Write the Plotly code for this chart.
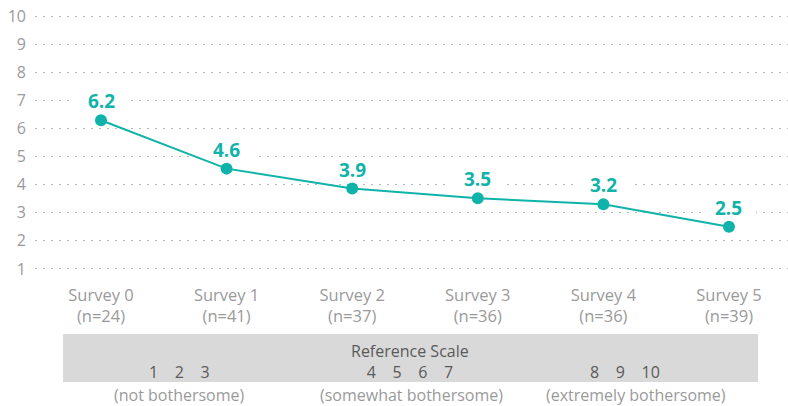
import plotly.graph_objects as go

# ---- data ----
surveys = ["Survey 0", "Survey 1", "Survey 2", "Survey 3", "Survey 4", "Survey 5"]
sample_sizes = [24, 41, 37, 36, 36, 39]
mean_scores = [6.29, 4.57, 3.86, 3.52, 3.30, 2.50]
score_labels = ["6.2", "4.6", "3.9", "3.5", "3.2", "2.5"]
y_ticks = [1, 2, 3, 4, 5, 6, 7, 8, 9, 10]
scale_title = "Reference Scale"
scale_groups = [["1", "2", "3"], ["4", "5", "6", "7"], ["8", "9", "10"]]
scale_descriptions = ["(not bothersome)", "(somewhat bothersome)", "(extremely bothersome)"]

# ---- layout geometry (pixels) ----
W, H = 788, 406
ML, MR, MT, MB = 35, 0, 2, 123
PW, PH = W - ML - MR, H - MT - MB


def px_x(px):
    return (px - ML) / PW


def px_y(py):
    return (H - MB - py) / PH


TEAL = "#10b3a9"
FONT = "Open Sans"
GREY = "#9a9a9a"
DARK = "#5a5a5a"

x_idx = list(range(len(surveys)))
tick_text = [f"{s}<br>(n={n})" for s, n in zip(surveys, sample_sizes)]

fig = go.Figure()
fig.add_trace(go.Scatter(
    x=x_idx, y=mean_scores, mode="lines+markers",
    line=dict(color=TEAL, width=2),
    marker=dict(color=TEAL, size=12),
    hoverinfo="skip", showlegend=False,
))

annotations = []
shapes = []
for xi, v, lab in zip(x_idx, mean_scores, score_labels):
    # white patch that hides the dotted gridlines behind each value label
    shapes.append(dict(
        type="rect", xref="x", yref="y", layer="between",
        xsizemode="pixel", ysizemode="pixel", xanchor=xi, yanchor=v,
        x0=-27, x1=27, y0=9, y1=29,
        fillcolor="white", line=dict(width=0),
    ))
    annotations.append(dict(
        x=xi, y=v, xref="x", yref="y", text=f"<b>{lab}</b>",
        showarrow=False, yshift=19,
        xanchor="center", yanchor="middle",
        font=dict(family=FONT, size=19, color=TEAL),
    ))

# reference scale box
shapes.append(dict(
    type="rect", xref="paper", yref="paper",
    x0=px_x(63), x1=px_x(758), y0=px_y(382), y1=px_y(334),
    fillcolor="#d9d9d9", line=dict(width=0), layer="below",
))

group_centers = [179, 410, 625]
desc_centers = [179, 411, 636]
SEP = "&nbsp;&nbsp;&nbsp;&nbsp;"
for i, (grp, cx) in enumerate(zip(scale_groups, group_centers)):
    nums = SEP.join(grp)
    if i == 1:
        # title sits directly above the middle group
        text, cy = scale_title + "<br>" + nums, 361.5
    else:
        text, cy = nums, 372
    annotations.append(dict(
        x=px_x(cx), y=px_y(cy), xref="paper", yref="paper",
        text=text, xanchor="center", yanchor="middle", align="center",
        showarrow=False, font=dict(family=FONT, size=16, color=DARK),
    ))
for d, cx in zip(scale_descriptions, desc_centers):
    annotations.append(dict(
        x=px_x(cx), y=px_y(395), xref="paper", yref="paper", text=d,
        xanchor="center", yanchor="middle",
        showarrow=False, font=dict(family=FONT, size=16, color=GREY),
    ))

fig.update_layout(
    width=W, height=H,
    margin=dict(l=ML, r=MR, t=MT, b=MB, pad=0),
    paper_bgcolor="white", plot_bgcolor="white",
    font=dict(family=FONT),
    shapes=shapes, annotations=annotations,
    xaxis=dict(
        range=[-0.5255, 5.47], tickvals=x_idx, ticktext=tick_text,
        showgrid=False, zeroline=False, showline=False,
        tickfont=dict(family=FONT, size=16.5, color=GREY),
        ticklabelstandoff=0, fixedrange=True,
    ),
    yaxis=dict(
        range=[0.5, 10.5], tickvals=y_ticks, showgrid=True,
        gridcolor="#b8b8b8", griddash="2px,6px", gridwidth=1,
        zeroline=False, showline=False,
        tickfont=dict(family=FONT, size=16, color=GREY),
        ticklabelstandoff=8, fixedrange=True,
    ),
)

body = fig.to_html(full_html=False, include_plotlyjs=True, config={"displayModeBar": False})
html = ("<!DOCTYPE html><html><head><meta charset='utf-8'>"
        "<style>html,body{margin:0;padding:0;}</style></head><body>"
        + body + "</body></html>")
with open("out.html", "w", encoding="utf-8") as f:
    f.write(html)
